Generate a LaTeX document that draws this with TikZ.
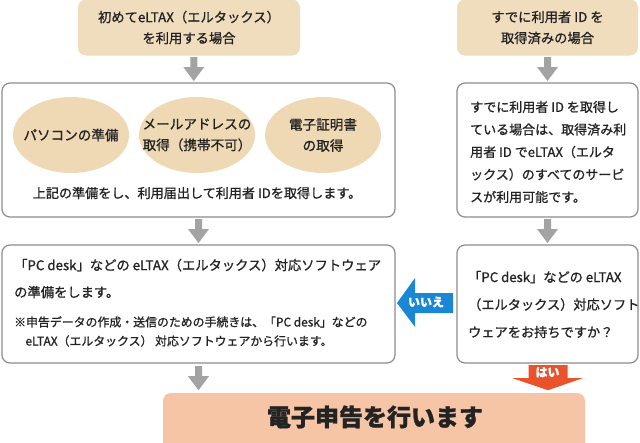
\documentclass[tikz,border=0pt]{standalone}
\usepackage{fontspec}
\setmainfont{Noto Sans CJK JP}[FakeBold=1.0]
\usetikzlibrary{calc,shapes.geometric}
\definecolor{beige}{RGB}{240,221,190}
\definecolor{ellbeige}{RGB}{239,217,181}
\definecolor{peach}{RGB}{246,197,165}
\definecolor{bordergray}{RGB}{140,140,140}
\definecolor{arrowgray}{RGB}{163,163,163}
\definecolor{noblue}{RGB}{26,135,212}
\definecolor{yesred}{RGB}{233,82,42}
\definecolor{txt}{RGB}{35,35,35}
\tikzset{
  headbox/.style={fill=beige, rounded corners=8pt, inner sep=0pt},
  framebox/.style={draw=bordergray, line width=1.2pt, fill=white, rounded corners=8pt, inner sep=0pt},
  prep/.style={ellipse, fill=ellbeige, inner sep=0pt, minimum width=116, minimum height=76},
  preptxt/.style={align=center, text=txt, inner sep=0pt, font=\fontsize{13.6}{21}\selectfont},
  headtxt/.style={align=center, text=txt, font=\fontsize{13.3}{21}\selectfont, inner sep=0pt},
  bodytxt/.style={align=left, text=txt, inner sep=0pt},
  arrowtxt/.style={text=white, font=\fontsize{12}{12}\selectfont\bfseries, inner sep=0pt},
}
\newcommand\grayarrowat[1]{%
  \fill[arrowgray] ($(#1)+(-3.5,-12)$) -- ($(#1)+(3.5,-12)$) -- ($(#1)+(3.5,-2)$) --
    ($(#1)+(10.5,-2)$) -- ($(#1)+(0,12)$) -- ($(#1)+(-10.5,-2)$) -- ($(#1)+(-3.5,-2)$) -- cycle;}
\begin{document}
\begin{tikzpicture}[x=1pt,y=-1pt]
\useasboundingbox (0,0) rectangle (640,442);
\clip (0,0) rectangle (640,442);
% header boxes
\node[headbox, minimum width=222, minimum height=56] (top1) at (189,27.5) {};
\node[headtxt] (top1t) at (top1.center) {初めてeLTAX（エルタックス）\\を利用する場合};
\node[headbox, minimum width=181, minimum height=56] (top2) at (547.5,27.5) {};
\node[headtxt] (top2t) at (top2.center) {すでに利用者 ID を\\取得済みの場合};
% row 1
\node[framebox, minimum width=393, minimum height=134] (box1) at (198.5,150) {};
\node[prep] (e1) at (71,135) {};
\node[prep] (e2) at (197,135) {};
\node[prep] (e3) at (323,135) {};
\node[preptxt] (e1t) at (e1.center) {パソコンの準備};
\node[preptxt] (e2t) at (e2.center) {メールアドレスの\\取得（携帯不可）};
\node[preptxt] (e3t) at (e3.center) {電子証明書\\の取得};
\node[headtxt, font=\fontsize{13.1}{21}\selectfont] (box1t) at (197,193) {上記の準備をし、利用届出して利用者 IDを取得します。};
\node[framebox, minimum width=181, minimum height=134] (box2) at (547.5,150) {};
\node[bodytxt, anchor=west, font=\fontsize{13}{22.5}\selectfont] (box2t) at (470,152)
  {すでに利用者 ID を取得し\\ている場合は、取得済み利\\用者 ID でeLTAX（エルタ\\ックス）のすべてのサービ\\スが利用可能です。};
% row 2
\node[framebox, minimum width=393, minimum height=118] (box3) at (198.5,304) {};
\node[bodytxt, anchor=west, font=\fontsize{13.3}{27}\selectfont] (box3t) at (14,278.5)
  {「PC desk」などの eLTAX（エルタックス）対応ソフトウェア\\の準備をします。};
\node[bodytxt, anchor=west, font=\fontsize{11.9}{19}\selectfont] (box3n) at (14,331.5)
  {※申告データの作成・送信のための手続きは、「PC desk」などの\\\hspace*{0.95em}eLTAX（エルタックス） 対応ソフトウェアから行います。};
\node[framebox, minimum width=181, minimum height=118] (box4) at (547.5,304) {};
\node[bodytxt, anchor=west, font=\fontsize{13.2}{27.5}\selectfont] (box4t) at (468,304.5)
  {「PC desk」などの eLTAX\\（エルタックス）対応ソフト\\ウェアをお持ちですか？};
% final
\node[fill=peach, rounded corners=8pt, minimum width=422, minimum height=70, inner sep=0pt] (final) at (374,428) {};
\node[text=txt, font=\fontsize{24}{24}\selectfont\bfseries, inner sep=0pt] (finalt) at (375,417) {電子申告を行います};
% gray arrows
\coordinate (a1) at ($(top1.south)!0.5!(box1.north)$);
\coordinate (a2) at ($(top2.south)!0.5!(box2.north)$);
\coordinate (a3) at ($(box1.south)!0.5!(box3.north)$);
\coordinate (a4) at ($(box2.south)!0.5!(box4.north)$);
\coordinate (a5) at ($(box3.south)!0.5!(final.north -| box3.south)$);
\grayarrowat{a1}
\grayarrowat{a2}
\grayarrowat{a3}
\grayarrowat{a4}
\grayarrowat{a5}
% no arrow
\coordinate (noarr) at ($(box3.east)!0.5!(box4.west)$);
\fill[noblue] ($(noarr)+(-29,-1)$) -- ($(noarr)+(-11,-26)$) -- ($(noarr)+(-11,-11)$) -- ($(noarr)+(27,-11)$)
  -- ($(noarr)+(27,9)$) -- ($(noarr)+(-11,9)$) -- ($(noarr)+(-11,23)$) -- cycle;
\node[arrowtxt] (notxt) at ($(noarr)+(0,-2)$) {いいえ};
% yes arrow
\coordinate (yesarr) at ($(box4.south)!0.5!(final.north -| box4.south)$);
\fill[yesred] ($(yesarr)+(-19,-13)$) -- ($(yesarr)+(20,-13)$) -- ($(yesarr)+(20,0)$) -- ($(yesarr)+(35,0)$)
  -- ($(yesarr)+(0.5,12)$) -- ($(yesarr)+(-35,0)$) -- ($(yesarr)+(-19,0)$) -- cycle;
\node[arrowtxt] (yestxt) at ($(yesarr)+(0,-6)$) {はい};
\end{tikzpicture}
\end{document}
